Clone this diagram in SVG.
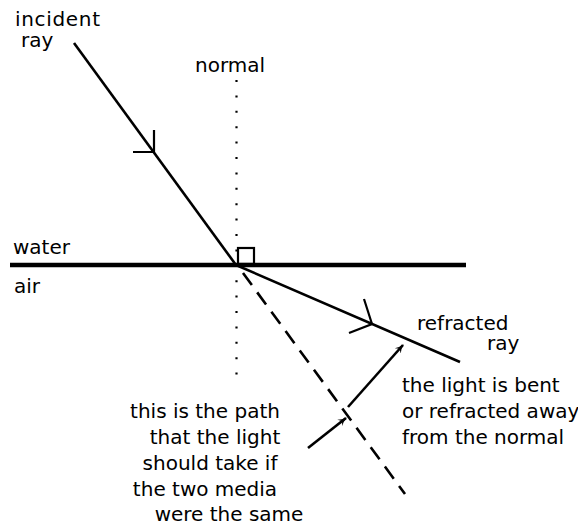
<svg xmlns="http://www.w3.org/2000/svg" width="578" height="531" viewBox="0 0 578 531">
<style>
text{font-family:"DejaVu Sans","Liberation Sans",sans-serif;font-size:20px;fill:#000}
.ray{stroke:#000;stroke-width:2.6;fill:none;stroke-linecap:butt}
.tick{stroke:#000;stroke-width:2.2;fill:none}
</style>
<defs>
<marker id="ah" markerWidth="10" markerHeight="10" refX="8" refY="5" orient="auto" markerUnits="userSpaceOnUse">
<path d="M0,1 Q4,4 9,5 Q4,6 0,9 L3,5 Z" fill="#000"/>
</marker>
</defs>
<rect width="578" height="531" fill="#fff"/>
<g id="interface">
<line x1="10" y1="265" x2="466" y2="265" stroke="#000" stroke-width="4.5"/>
<rect x="238" y="248" width="16" height="16" fill="none" stroke="#000" stroke-width="2.2"/>
<text x="13" y="254">water</text>
<text x="14" y="293">air</text>
</g>
<g id="normal">
<line x1="236.5" y1="80" x2="236.5" y2="386" stroke="#000" stroke-width="2.2" stroke-dasharray="2 13.4" stroke-linecap="butt"/>
<text x="195" y="72">normal</text>
</g>
<g id="incident">
<line class="ray" x1="74" y1="43" x2="236" y2="265"/>
<path class="tick" d="M133,152 L154,152 L154,130"/>
<text x="15" y="26" textLength="85" lengthAdjust="spacing">incident</text>
<text x="21" y="47">ray</text>
</g>
<g id="refracted">
<line class="ray" x1="236" y1="265" x2="460" y2="362"/>
<path class="tick" d="M364,299 L372,324 L349,333"/>
<text x="417" y="330">refracted</text>
<text x="487" y="350">ray</text>
</g>
<g id="expected">
<line class="ray" x1="243" y1="273" x2="405" y2="494" stroke-dasharray="15 9"/>
<text text-anchor="middle" x="205" y="418">this is the path</text>
<text text-anchor="middle" x="215" y="444">that the light</text>
<text text-anchor="middle" x="210" y="470">should take if</text>
<text text-anchor="middle" x="205" y="496">the two media</text>
<text text-anchor="middle" x="229" y="521">were the same</text>
</g>
<g id="note">
<text x="402" y="392">the light is bent</text>
<text x="402" y="418">or refracted away</text>
<text x="402" y="444">from the normal</text>
</g>
<g id="connectors">
<line class="ray" x1="308" y1="448" x2="346" y2="418" marker-end="url(#ah)"/>
<line class="ray" x1="348" y1="407" x2="403" y2="345" marker-end="url(#ah)"/>
</g>
</svg>
